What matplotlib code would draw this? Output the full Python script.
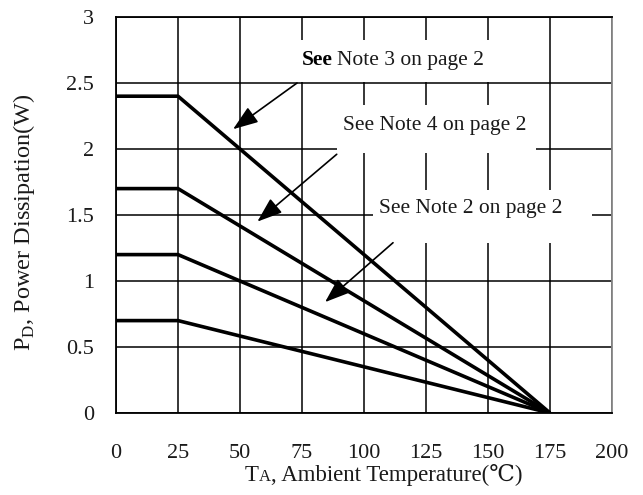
import matplotlib
matplotlib.use("Agg")
import matplotlib.pyplot as plt
from matplotlib.patches import Rectangle
from matplotlib.offsetbox import TextArea, HPacker, AnnotationBbox

plt.rcParams['font.family'] = ['Liberation Serif', 'DejaVu Serif']
plt.rcParams['mathtext.fontset'] = 'custom'
plt.rcParams['mathtext.rm'] = 'Liberation Serif'

# derating curves: flat to 25 C, then linear down to 0 W at 175 C
temps = [0, 25, 175]
power_levels = [2.4, 1.7, 1.2, 0.7]

x_ticks = [0, 25, 50, 75, 100, 125, 150, 175, 200]
y_ticks = [0, 0.5, 1, 1.5, 2, 2.5, 3]
y_tick_labels = ['0', '0.5', '1', '1.5', '2', '2.5', '3']

notes = ["Note 3 on page 2", "See Note 4 on page 2", "See Note 2 on page 2"]
note_text_xy = [(75, 2.674), (91.5, 2.18), (106, 1.553)]
note_boxes = [(73, 2.508, 82, 0.318), (89, 1.97, 80.4, 0.363), (103.6, 1.288, 88.3, 0.401)]
arrow_tails = [(73, 2.5), (89, 1.96), (111.7, 1.29)]
arrow_heads = [(47.2, 2.15), (57, 1.45), (84.3, 0.84)]

fig = plt.figure(figsize=(6.43, 4.95), dpi=100)
ax = fig.add_axes([116 / 643, 1 - 413 / 495, (612 - 116) / 643, (413 - 17) / 495])

ax.set_xlim(0, 200)
ax.set_ylim(0, 3)
ax.set_xticks(x_ticks)
ax.set_yticks(y_ticks)
ax.set_yticklabels(y_tick_labels)
ax.tick_params(length=0, labelsize=16, colors='#1a1a1a')
ax.tick_params(axis='x', pad=22)
ax.tick_params(axis='y', pad=16)
ax.grid(True, color='black', lw=1.1)
ax.set_axisbelow(True)
for side in ['left', 'bottom', 'top']:
    ax.spines[side].set_linewidth(1.3)
ax.spines['right'].set_color('#888888')
ax.spines['right'].set_linewidth(1.3)

for p in power_levels:
    ax.plot(temps, [p, p, 0], color='black', lw=2.6, zorder=4, solid_capstyle='butt')

for (bx, by, bw, bh) in note_boxes:
    ax.add_patch(Rectangle((bx, by), bw, bh, facecolor='white', edgecolor='none', zorder=2))

# first note has a bold "See"
t = ax.text(note_text_xy[0][0], note_text_xy[0][1], "See", fontsize=15.5, fontweight='bold',
            ha='left', va='center', zorder=5)
fig.canvas.draw()
bb = t.get_window_extent().transformed(ax.transData.inverted())
ax.text(bb.x1 + 1.5, note_text_xy[0][1], notes[0], fontsize=15.5, ha='left', va='center',
        zorder=5, color='#1a1a1a')
for txt, (tx, ty) in zip(notes[1:], note_text_xy[1:]):
    ax.text(tx, ty, txt, fontsize=15.5, ha='left', va='center', zorder=5, color='#1a1a1a')

for tail, head in zip(arrow_tails, arrow_heads):
    ax.annotate('', xy=head, xytext=tail,
                arrowprops=dict(arrowstyle='-|>,head_length=0.55,head_width=0.2',
                                mutation_scale=28, lw=1.2, color='black',
                                shrinkA=0, shrinkB=0), zorder=5)

# x label: T with a smaller A on the same baseline
parts = [TextArea('T', textprops=dict(fontsize=16.5, color='#1a1a1a')),
         TextArea('A', textprops=dict(fontsize=12, color='#1a1a1a')),
         TextArea(', Ambient Temperature(℃)', textprops=dict(fontsize=16.5, color='#1a1a1a'))]
xlab = HPacker(children=parts, align='baseline', pad=0, sep=0)
ab = AnnotationBbox(xlab, (0.54, -0.157), xycoords='axes fraction', frameon=False,
                    box_alignment=(0.5, 0.5), annotation_clip=False)
ax.add_artist(ab)

ax.set_ylabel(r'P$_{\mathrm{D}}$, Power Dissipation(W)', fontsize=17.5, color='#1a1a1a',
              va='center')
ax.yaxis.set_label_coords(-0.185, 0.482)

fig.savefig('out.png', dpi=100)
